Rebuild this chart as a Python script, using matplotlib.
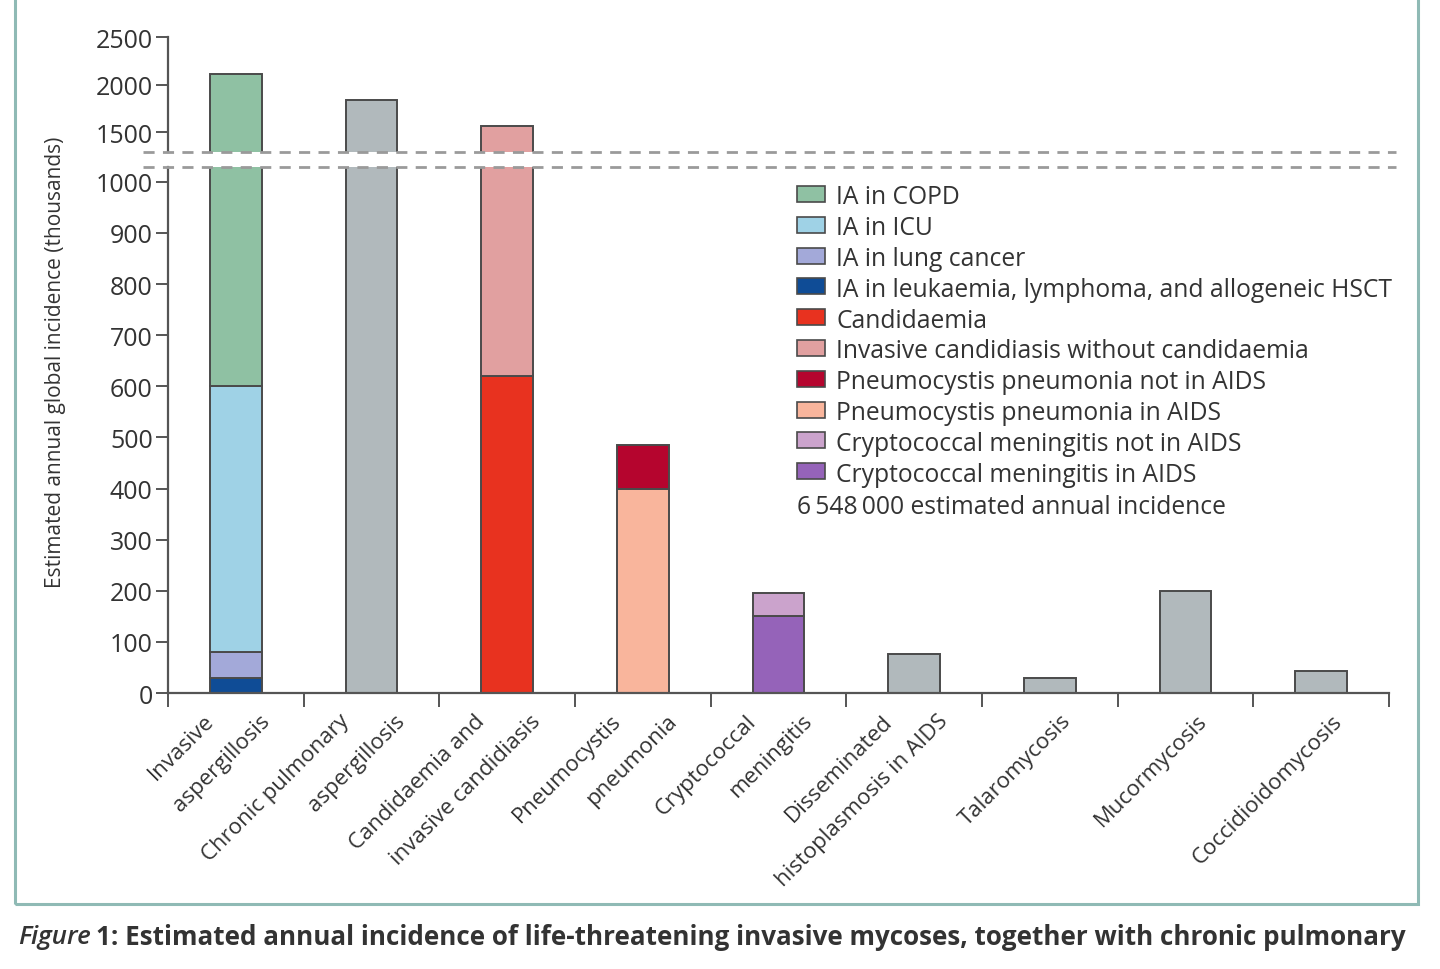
import matplotlib
matplotlib.use("Agg")
import matplotlib.pyplot as plt
import numpy as np
from matplotlib.patches import Rectangle
from matplotlib.lines import Line2D
import matplotlib.transforms as mtransforms

plt.rcParams['font.family'] = ['Open Sans', 'DejaVu Sans']

# ---------------- data (thousands) ----------------
categories = [
    ["Invasive", "aspergillosis"],
    ["Chronic pulmonary", "aspergillosis"],
    ["Candidaemia and", "invasive candidiasis"],
    ["Pneumocystis", "pneumonia"],
    ["Cryptococcal", "meningitis"],
    ["Disseminated", "histoplasmosis in AIDS"],
    ["Talaromycosis"],
    ["Mucormycosis"],
    ["Coccidioidomycosis"],
]
ia_leukaemia   = [30, 0, 0, 0, 0, 0, 0, 0, 0]
ia_lung_cancer = [50, 0, 0, 0, 0, 0, 0, 0, 0]
ia_icu         = [520, 0, 0, 0, 0, 0, 0, 0, 0]
ia_copd        = [1513, 0, 0, 0, 0, 0, 0, 0, 0]
candidaemia    = [0, 0, 620, 0, 0, 0, 0, 0, 0]
inv_cand       = [0, 0, 945, 0, 0, 0, 0, 0, 0]
pcp_aids       = [0, 0, 0, 400, 0, 0, 0, 0, 0]
pcp_not_aids   = [0, 0, 0, 85, 0, 0, 0, 0, 0]
crypto_aids    = [0, 0, 0, 0, 151, 0, 0, 0, 0]
crypto_not     = [0, 0, 0, 0, 45, 0, 0, 0, 0]
other_total    = [0, 1837, 0, 0, 0, 76, 29, 200, 43]

total_text = "6\u2009548\u2009000 estimated annual incidence"

# stacking order bottom -> top: (values, colour, legend label)
series = [
    (ia_leukaemia,   "#0f4c96", "IA in leukaemia, lymphoma, and allogeneic HSCT"),
    (ia_lung_cancer, "#a3a9d9", "IA in lung cancer"),
    (ia_icu,         "#9fd2e6", "IA in ICU"),
    (ia_copd,        "#8fc1a3", "IA in COPD"),
    (candidaemia,    "#e8321f", "Candidaemia"),
    (inv_cand,       "#e1a0a0", "Invasive candidiasis without candidaemia"),
    (pcp_aids,       "#f9b59c", "Pneumocystis pneumonia in AIDS"),
    (pcp_not_aids,   "#b5052e", "Pneumocystis pneumonia not in AIDS"),
    (crypto_aids,    "#9563b9", "Cryptococcal meningitis in AIDS"),
    (crypto_not,     "#cba3cc", "Cryptococcal meningitis not in AIDS"),
    (other_total,    "#b1b9bc", None),
]
legend_order = [
    "IA in COPD", "IA in ICU", "IA in lung cancer",
    "IA in leukaemia, lymphoma, and allogeneic HSCT",
    "Candidaemia", "Invasive candidiasis without candidaemia",
    "Pneumocystis pneumonia not in AIDS", "Pneumocystis pneumonia in AIDS",
    "Cryptococcal meningitis not in AIDS", "Cryptococcal meningitis in AIDS",
]
lower_ticks = [0, 100, 200, 300, 400, 500, 600, 700, 800, 900, 1000]
upper_ticks = [1500, 2000, 2500]

# ---------------- layout ----------------
W, H = 1440, 970
fig = plt.figure(figsize=(W / 100, H / 100), dpi=100)

def fx(px):
    return px / W

def fy(py):
    return 1 - py / H

ax_left, ax_right = 168, 1389
low_top, low_bot = 168, 694
up_top, up_bot = 38, 153

ax_lo = fig.add_axes([fx(ax_left), fy(low_bot), fx(ax_right - ax_left), (low_bot - low_top) / H])
ax_hi = fig.add_axes([fx(ax_left), fy(up_bot), fx(ax_right - ax_left), (up_bot - up_top) / H])

edge = "#4a4a4a"
txt = "#333333"
axc = "#555555"
x = np.arange(len(categories))
bar_w = 0.38

for ax in (ax_lo, ax_hi):
    bottom = np.zeros(len(categories))
    for vals, col, lab in series:
        v = np.array(vals, dtype=float)
        mask = v > 0
        ax.bar(x[mask], v[mask], width=bar_w, bottom=bottom[mask], color=col,
               edgecolor=edge, linewidth=1.4, zorder=2)
        bottom += v
    ax.set_xlim(-0.5, len(categories) - 0.5)
    for s in ("top", "right"):
        ax.spines[s].set_visible(False)
    ax.spines["left"].set_color(axc)
    ax.spines["left"].set_linewidth(1.6)
    ax.tick_params(axis="y", direction="out", length=9, width=1.4, color=axc,
                   labelsize=18, labelcolor=txt, pad=2)

ax_lo.set_ylim(0, 1029)
ax_hi.set_ylim(1290, 2500)
ax_lo.set_yticks(lower_ticks)
ax_hi.set_yticks(upper_ticks)
ax_hi.spines["bottom"].set_visible(False)
ax_hi.set_xticks([])
ax_lo.spines["bottom"].set_color(axc)
ax_lo.spines["bottom"].set_linewidth(1.6)
ax_lo.set_xticks(np.arange(-0.5, len(categories), 1.0))
ax_lo.set_xticklabels([])
ax_lo.tick_params(axis="x", direction="out", length=10, width=1.4, color=axc)

# category labels (rotated, one text per line)
trans = mtransforms.blended_transform_factory(ax_lo.transData, ax_lo.transAxes)
ylab = -(711 - low_bot) / (low_bot - low_top)
for i, lines in enumerate(categories):
    offs = [-0.24, 0.17] if len(lines) == 2 else [0.08]
    for ln, off in zip(lines, offs):
        ax_lo.text(i + off, ylab, ln, transform=trans, rotation=45,
                   rotation_mode="anchor", ha="right", va="top",
                   fontsize=16, color=txt)

# y label
fig.text(fx(55), fy(362), "Estimated annual global incidence (thousands)",
         rotation=90, ha="center", va="center", fontsize=15, color=txt)

# axis break dashed lines
for yb in (up_bot, low_top):
    fig.add_artist(Line2D([fx(143), fx(1396)], [fy(yb), fy(yb)], transform=fig.transFigure,
                          color="#9a9a9a", lw=2, linestyle=(0, (4, 3)), zorder=5))

# legend (manual layout)
lut = {lab: col for _, col, lab in series if lab}
fs_leg = 17.7
row0, dy = 195, 30.8
for k, lab in enumerate(legend_order):
    yc = row0 + k * dy
    fig.add_artist(Rectangle((fx(797), fy(yc + 8)), fx(28), 16 / H,
                             transform=fig.transFigure, facecolor=lut[lab],
                             edgecolor=edge, linewidth=1.2))
    fig.text(fx(836), fy(yc), lab, ha="left", va="center_baseline",
             fontsize=fs_leg, color=txt)
fig.text(fx(797), fy(row0 + 10 * dy + 1), total_text, ha="left", va="center_baseline",
         fontsize=fs_leg, color=txt)

# frame
fig.add_artist(Rectangle((fx(15), fy(905)), fx(1418 - 15), (905 + 20) / H,
                         transform=fig.transFigure, fill=False,
                         edgecolor="#8fbab5", linewidth=2.2, zorder=0))

# caption
fig.canvas.draw()
r = fig.canvas.get_renderer()
t1 = fig.text(fx(18), fy(938), "Figure", style="italic", fontweight="semibold", fontsize=18.7,
              color=txt, ha="left", va="center")
bb = t1.get_window_extent(renderer=r)
fig.text(bb.x1 / W + fx(5), fy(938),
         "1: Estimated annual incidence of life-threatening invasive mycoses, together with chronic pulmonary",
         fontweight="bold", fontsize=18.7, color=txt, ha="left", va="center")

fig.savefig("out.png", dpi=100)
